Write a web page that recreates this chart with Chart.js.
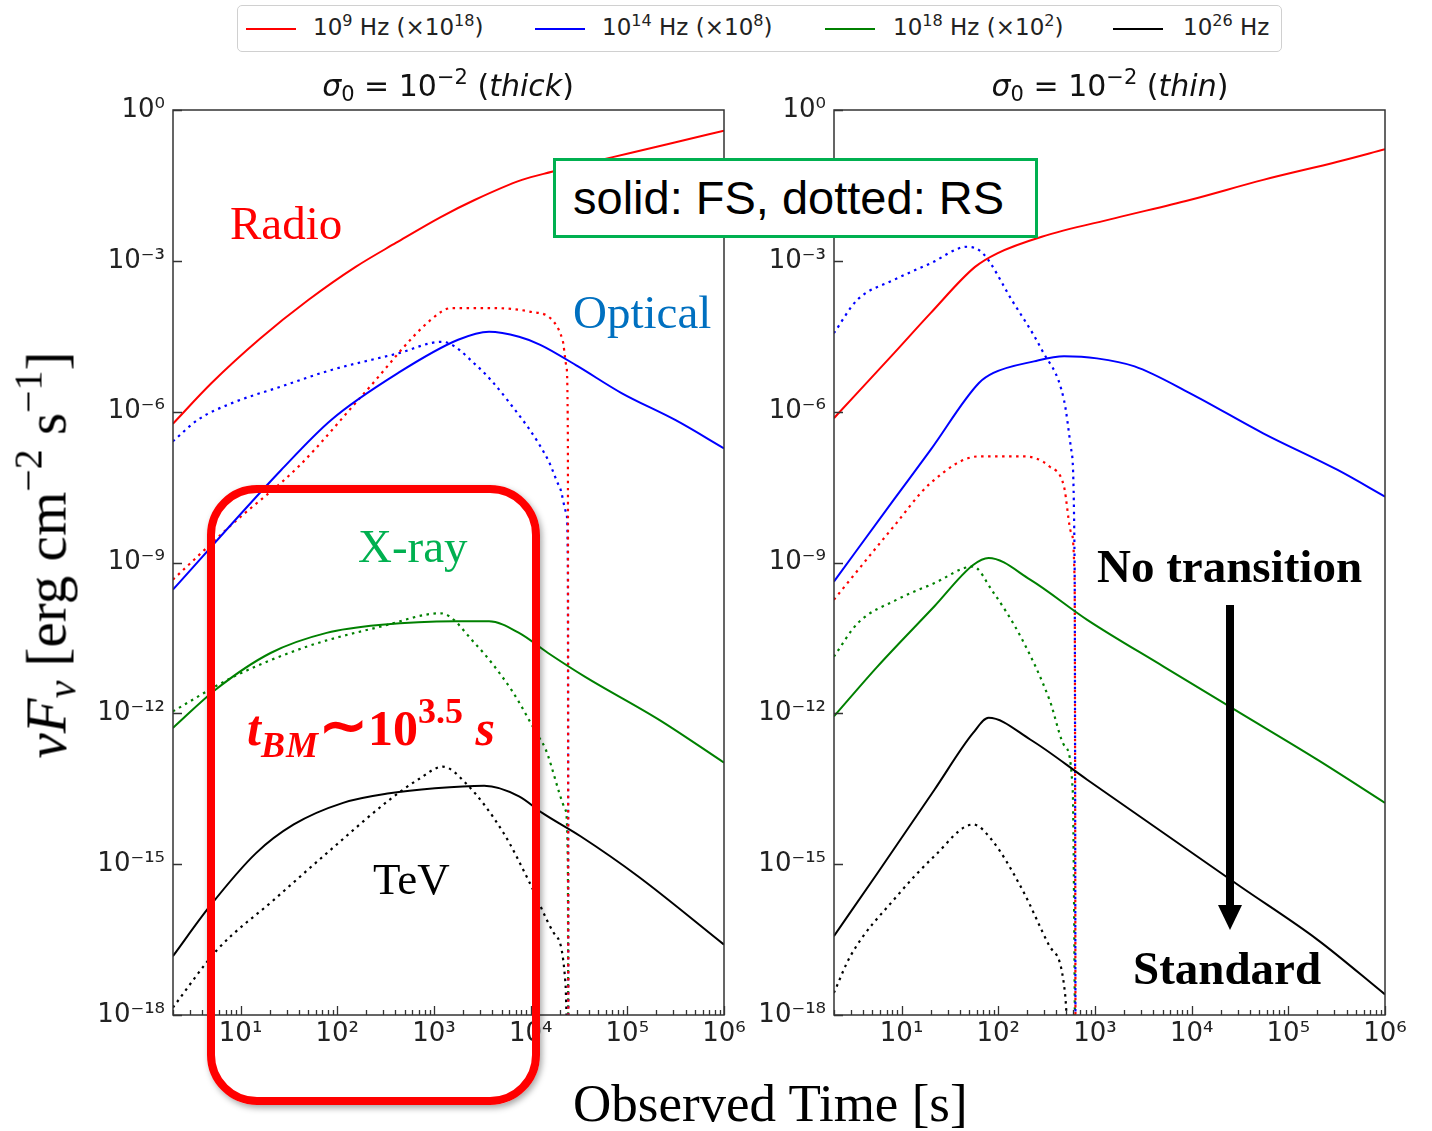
<!DOCTYPE html>
<html>
<head>
<meta charset="utf-8">
<script src="https://cdn.jsdelivr.net/npm/chart.js@4.4.1/dist/chart.umd.min.js"></script>
<style>
  body { margin: 0; background: #fff; width: 1432px; height: 1131px; position: relative; overflow: hidden; font-family: 'DejaVu Sans', sans-serif; }
  canvas { position: absolute; top: 0; z-index: 1; }
  .txt { position: absolute; white-space: nowrap; line-height: 1; z-index: 3; }
  .serif { font-family: 'Liberation Serif', 'Times New Roman', serif; }
  #legend { position: absolute; left: 237px; top: 5px; width: 1043px; height: 45px; border: 1.5px solid #d0d0d0; border-radius: 5px; z-index: 3; background: #fff; }
  .lg-line { position: absolute; top: 22px; width: 50px; height: 2px; }
  .lg-txt { position: absolute; top: 10px; font-size: 23px; color: #222; white-space: nowrap; line-height: 1; }
  .lg-txt sup, .ttl sup { font-size: 0.7em; vertical-align: 0.55em; line-height: 0; }
  .ttl { font-size: 30px; color: #111; transform: translateX(-50%); }
  .ttl sub { font-size: 0.7em; vertical-align: -0.25em; line-height: 0; }
  #fsbox { position: absolute; left: 553px; top: 158px; width: 479px; height: 74px; border: 3px solid #00b050; background: #fff; z-index: 3;
           font-family: 'Liberation Sans', Arial, sans-serif; font-size: 47px; line-height: 74px; text-indent: 17px; color: #000; white-space: nowrap; }
  #redbox { position: absolute; left: 207px; top: 485px; width: 317px; height: 604px; border: 8px solid #f00; border-radius: 50px; z-index: 2;
            box-shadow: 2px 3px 6px rgba(0,0,0,0.35); }
  #arrow { position: absolute; left: 1226px; top: 605px; width: 8px; height: 305px; background: #000; z-index: 3; }
  #arrowhead { position: absolute; left: 1218px; top: 905px; width: 0; height: 0; border-left: 12px solid transparent; border-right: 12px solid transparent; border-top: 25px solid #000; z-index: 3; }
</style>
</head>
<body>
<canvas id="thick" width="760" height="1131" style="left:0"></canvas>
<canvas id="thin" width="692" height="1131" style="left:740px"></canvas>

<div id="legend">
  <div class="lg-line" style="left:8px;background:red"></div>
  <div class="lg-txt" style="left:75px">10<sup>9</sup> Hz (×10<sup>18</sup>)</div>
  <div class="lg-line" style="left:297px;background:blue"></div>
  <div class="lg-txt" style="left:364px">10<sup>14</sup> Hz (×10<sup>8</sup>)</div>
  <div class="lg-line" style="left:587px;background:green"></div>
  <div class="lg-txt" style="left:655px">10<sup>18</sup> Hz (×10<sup>2</sup>)</div>
  <div class="lg-line" style="left:875px;background:black"></div>
  <div class="lg-txt" style="left:945px">10<sup>26</sup> Hz</div>
</div>

<div class="txt ttl" style="left:448px;top:71px"><i>σ</i><sub>0</sub> = 10<sup>−2</sup> (<i>thick</i>)</div>
<div class="txt ttl" style="left:1110px;top:71px"><i>σ</i><sub>0</sub> = 10<sup>−2</sup> (<i>thin</i>)</div>

<div class="txt serif" style="left:230px;top:200px;font-size:47px;color:#ff0000">Radio</div>
<div class="txt serif" style="left:573px;top:289px;font-size:47px;color:#0070c0">Optical</div>
<div class="txt serif" style="left:358px;top:523px;font-size:47px;color:#00b050">X-ray</div>
<div class="txt serif" style="left:373px;top:857px;font-size:45px;color:#000">TeV</div>

<div id="fsbox">solid: FS, dotted: RS</div>
<div id="redbox"></div>
<div class="txt serif" style="left:247px;top:697px;font-size:50px;color:#f00;font-weight:bold">
  <i>t<sub style="font-size:0.72em;vertical-align:-0.32em;line-height:0;letter-spacing:1px">BM</sub></i><span style="font-size:1.15em">∼</span>10<sup style="font-size:0.72em;vertical-align:0.6em;line-height:0">3.5</sup>&nbsp;<i>s</i>
</div>

<div class="txt serif" style="left:1097px;top:543px;font-size:47px;font-weight:bold;color:#000">No transition</div>
<div id="arrow"></div>
<div id="arrowhead"></div>
<div class="txt serif" style="left:1133px;top:945px;font-size:47px;font-weight:bold;color:#000">Standard</div>

<div class="txt serif" style="left:46px;top:555px;font-size:57px;color:#000;transform:translate(-50%,-50%) rotate(-90deg)">
  <i>νF<sub style="font-size:0.7em;vertical-align:-0.25em;line-height:0">ν</sub></i> [erg cm<sup style="font-size:0.7em;vertical-align:0.6em;line-height:0">−2</sup> s<sup style="font-size:0.7em;vertical-align:0.6em;line-height:0">−1</sup>]
</div>
<div class="txt serif" style="left:573px;top:1077px;font-size:53px;color:#000">Observed Time [s]</div>

<script>
// log10 of observed time [s] and log10 of nuFnu
// sigma0 = 1e-2, thick shell
const thickRadioFS_t = [0.30, 0.70, 1.20, 1.70, 2.19, 2.61, 3.07, 3.42, 3.91, 4.22, 4.60, 5.02, 5.50, 6.00];
const thickRadioFS_f = [-6.24, -5.43, -4.55, -3.78, -3.12, -2.64, -2.13, -1.79, -1.39, -1.23, -1.05, -0.86, -0.64, -0.41];
const thickOptFS_t = [0.30, 1.42, 1.94, 2.63, 3.25, 3.57, 3.88, 4.10, 4.49, 4.94, 5.50, 6.00];
const thickOptFS_f = [-9.54, -7.16, -6.16, -5.23, -4.57, -4.41, -4.51, -4.67, -5.10, -5.63, -6.17, -6.73];
const thickXrayFS_t = [0.30, 0.74, 1.31, 1.89, 2.46, 3.22, 3.57, 3.88, 4.18, 4.56, 5.33, 6.00];
const thickXrayFS_f = [-12.29, -11.53, -10.80, -10.40, -10.24, -10.17, -10.17, -10.40, -10.80, -11.27, -12.13, -12.98];
const thickTeVFS_t = [0.30, 0.68, 1.16, 1.55, 2.06, 2.54, 3.01, 3.52, 3.88, 4.12, 4.52, 5.11, 6.00];
const thickTeVFS_f = [-16.83, -15.84, -14.78, -14.21, -13.78, -13.59, -13.49, -13.44, -13.65, -13.98, -14.45, -15.24, -16.60];
const thickRadioRS_t = [0.30, 0.93, 1.60, 2.28, 2.97, 3.18, 3.60, 3.99, 4.22, 4.33, 4.37, 4.385, 4.39];
const thickRadioRS_f = [-9.34, -8.21, -7.09, -5.63, -4.17, -3.94, -3.94, -4.01, -4.17, -4.57, -5.10, -6.50, -20];
const thickOptRS_t = [0.30, 0.56, 0.91, 1.42, 1.94, 2.63, 3.08, 3.45, 3.76, 4.18, 4.30, 4.37, 4.385, 4.39];
const thickOptRS_f = [-6.59, -6.16, -5.83, -5.50, -5.17, -4.84, -4.61, -5.10, -5.77, -6.96, -7.50, -8.02, -9.00, -20];
const thickXrayRS_t = [0.30, 0.93, 1.69, 2.46, 3.07, 3.42, 3.80, 4.12, 4.36, 4.385, 4.39];
const thickXrayRS_f = [-11.96, -11.27, -10.67, -10.27, -10.01, -10.60, -11.53, -12.58, -13.92, -15.0, -20];
const thickTeVRS_t = [0.30, 0.76, 1.35, 1.94, 2.54, 2.85, 3.09, 3.33, 3.72, 3.99, 4.24, 4.36, 4.39];
const thickTeVRS_f = [-17.85, -16.70, -15.70, -14.70, -13.72, -13.30, -13.06, -13.39, -14.38, -15.37, -16.37, -17.36, -20];

// sigma0 = 1e-2, thin shell
const thinRadioFS_t = [0.30, 0.92, 1.30, 1.76, 1.99, 2.45, 3.21, 3.98, 4.74, 5.51, 6.00];
const thinRadioFS_f = [-6.13, -4.84, -4.04, -3.12, -2.85, -2.52, -2.15, -1.79, -1.39, -1.03, -0.78];
const thinOptFS_t = [0.30, 0.92, 1.30, 1.80, 1.95, 2.37, 2.68, 3.02, 3.41, 3.98, 4.74, 5.51, 6.00];
const thinOptFS_f = [-9.38, -7.75, -6.76, -5.43, -5.23, -5.00, -4.90, -4.94, -5.10, -5.63, -6.43, -7.16, -7.69];
const thinXrayFS_t = [0.30, 0.75, 1.34, 1.74, 1.90, 2.33, 2.92, 3.71, 4.50, 5.30, 6.00];
const thinXrayFS_f = [-12.06, -11.07, -9.87, -9.05, -8.91, -9.34, -10.14, -11.07, -11.99, -12.92, -13.78];
const thinTeVFS_t = [0.30, 0.75, 1.34, 1.74, 1.90, 2.33, 2.92, 3.71, 4.50, 5.30, 6.00];
const thinTeVFS_f = [-16.43, -15.18, -13.52, -12.39, -12.09, -12.52, -13.32, -14.38, -15.44, -16.50, -17.59];
const thinRadioRS_t = [0.30, 0.92, 1.30, 1.80, 2.26, 2.53, 2.68, 2.755, 2.79, 2.80];
const thinRadioRS_f = [-9.74, -8.28, -7.42, -6.89, -6.89, -7.09, -7.49, -8.41, -9.40, -20];
const thinOptRS_t = [0.30, 0.54, 0.92, 1.30, 1.68, 1.84, 2.14, 2.45, 2.68, 2.755, 2.79, 2.80];
const thinOptRS_f = [-4.44, -3.78, -3.38, -3.05, -2.72, -2.85, -3.78, -4.77, -5.77, -6.76, -9.08, -20];
const thinXrayRS_t = [0.30, 0.55, 0.95, 1.34, 1.74, 1.93, 2.25, 2.53, 2.69, 2.77, 2.80];
const thinXrayRS_f = [-10.87, -10.20, -9.74, -9.41, -9.08, -9.54, -10.54, -11.73, -12.66, -13.52, -20];
const thinTeVRS_t = [0.30, 0.47, 0.95, 1.34, 1.74, 1.93, 2.25, 2.53, 2.69, 2.75];
const thinTeVRS_f = [-17.56, -16.83, -15.64, -14.84, -14.21, -14.51, -15.51, -16.63, -17.56, -20];

const bandColors = ['red', 'blue', 'green', 'black'];
const xTickExps = [1, 2, 3, 4, 5, 6];
const yTickExps = [0, -3, -6, -9, -12, -15, -18];

const SUP = {'0':'⁰','1':'¹','2':'²','3':'³','4':'⁴','5':'⁵','6':'⁶','7':'⁷','8':'⁸','9':'⁹','-':'⁻'};
function powLabel(v) {
    const e = String(Math.round(Math.log10(v)));
    return '10' + e.split('').map(c => SUP[c]).join('');
}

function pts(ts, fs) {
    return ts.map((t, i) => ({x: Math.pow(10, t), y: Math.pow(10, fs[i])}));
}

function series(ts, fs, color, dotted) {
    return {
        data: pts(ts, fs),
        borderColor: color,
        borderWidth: dotted ? 2.2 : 2,
        borderDash: dotted ? [2.5, 4.5] : [],
        pointRadius: 0,
        cubicInterpolationMode: 'monotone',
        fill: false
    };
}

// box around the plot and inward pointing ticks, matplotlib style
const frameTicks = {
    id: 'frameTicks',
    afterDraw(chart) {
        const {ctx, chartArea: a, scales: {x, y}} = chart;
        ctx.save();
        ctx.strokeStyle = '#333';
        ctx.lineWidth = 1.5;
        ctx.strokeRect(a.left, a.top, a.right - a.left, a.bottom - a.top);
        ctx.lineWidth = 1.3;
        ctx.beginPath();
        yTickExps.forEach(e => {
            const py = Math.round(y.getPixelForValue(Math.pow(10, e))) + 0.5;
            ctx.moveTo(a.left, py); ctx.lineTo(a.left + 9, py);
        });
        for (let k = 0; k <= 6; k++) {
            for (let m = 1; m <= 9; m++) {
                const v = m * Math.pow(10, k);
                if (v < x.min || v > x.max) continue;
                const px = Math.round(x.getPixelForValue(v)) + 0.5;
                ctx.moveTo(px, a.bottom); ctx.lineTo(px, a.bottom - (m === 1 ? 9 : 5));
            }
        }
        ctx.stroke();
        ctx.restore();
    }
};

function makeChart(id, datasets, yWidth, padLeft, padRight) {
    new Chart(document.getElementById(id), {
        type: 'line',
        data: {datasets: datasets},
        plugins: [frameTicks],
        options: {
            responsive: false,
            animation: false,
            layout: {autoPadding: false, padding: {left: padLeft, right: padRight, top: 110, bottom: 66}},
            plugins: {legend: {display: false}, tooltip: {enabled: false}},
            scales: {
                x: {
                    type: 'logarithmic', min: 2, max: 1e6,
                    grid: {display: false, drawTicks: false},
                    border: {display: false},
                    afterBuildTicks: s => { s.ticks = xTickExps.map(e => ({value: Math.pow(10, e)})); },
                    afterFit: s => { s.height = 50; },
                    ticks: {callback: v => powLabel(v), autoSkip: false, maxRotation: 0, padding: 4,
                            color: '#222', font: {family: 'DejaVu Sans', size: 26}}
                },
                y: {
                    type: 'logarithmic', min: 1e-18, max: 1,
                    grid: {display: false, drawTicks: false},
                    border: {display: false},
                    afterBuildTicks: s => { s.ticks = yTickExps.map(e => ({value: Math.pow(10, e)})); },
                    afterFit: s => { s.width = yWidth; },
                    ticks: {callback: v => powLabel(v), autoSkip: false, padding: 8,
                            color: '#222', font: {family: 'DejaVu Sans', size: 26}}
                }
            }
        }
    });
}

makeChart('thick', [
    series(thickRadioFS_t, thickRadioFS_f, bandColors[0], false),
    series(thickOptFS_t, thickOptFS_f, bandColors[1], false),
    series(thickXrayFS_t, thickXrayFS_f, bandColors[2], false),
    series(thickTeVFS_t, thickTeVFS_f, bandColors[3], false),
    series(thickRadioRS_t, thickRadioRS_f, bandColors[0], true),
    series(thickOptRS_t, thickOptRS_f, bandColors[1], true),
    series(thickXrayRS_t, thickXrayRS_f, bandColors[2], true),
    series(thickTeVRS_t, thickTeVRS_f, bandColors[3], true)
], 100, 73, 36);

makeChart('thin', [
    series(thinRadioFS_t, thinRadioFS_f, bandColors[0], false),
    series(thinOptFS_t, thinOptFS_f, bandColors[1], false),
    series(thinXrayFS_t, thinXrayFS_f, bandColors[2], false),
    series(thinTeVFS_t, thinTeVFS_f, bandColors[3], false),
    series(thinRadioRS_t, thinRadioRS_f, bandColors[0], true),
    series(thinOptRS_t, thinOptRS_f, bandColors[1], true),
    series(thinXrayRS_t, thinXrayRS_f, bandColors[2], true),
    series(thinTeVRS_t, thinTeVRS_f, bandColors[3], true)
], 90, 4, 47);
</script>
</body>
</html>
